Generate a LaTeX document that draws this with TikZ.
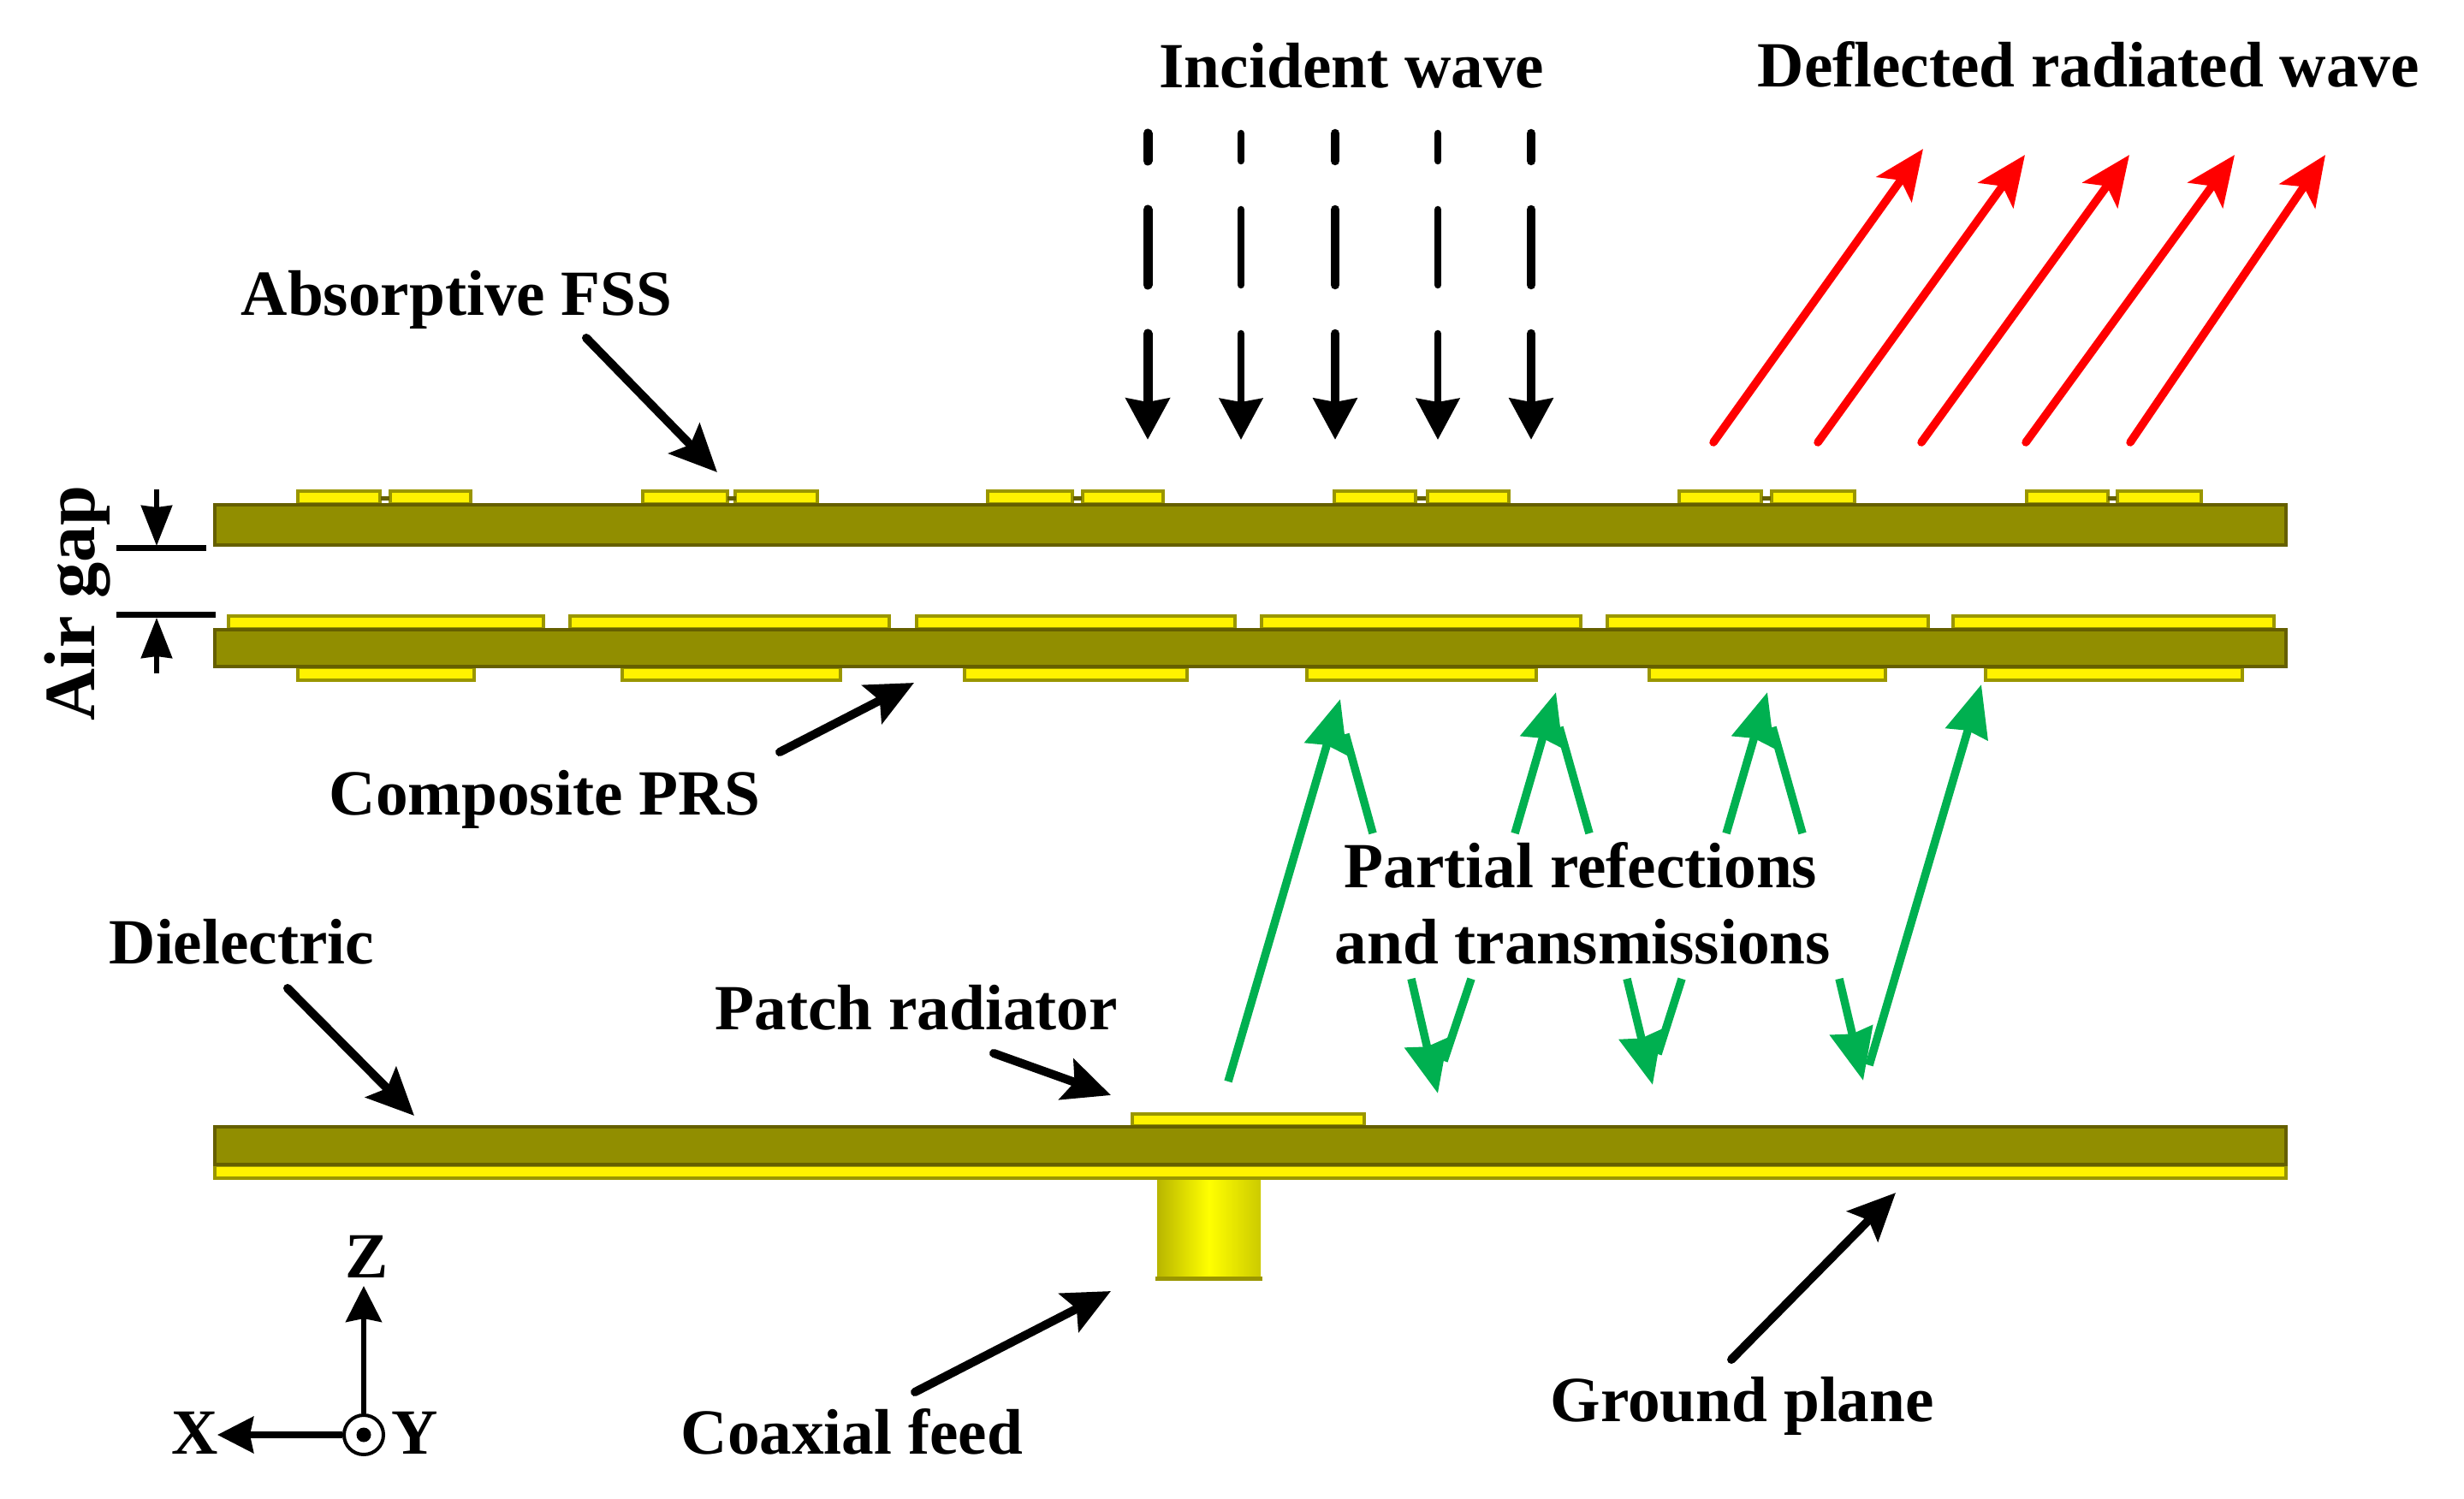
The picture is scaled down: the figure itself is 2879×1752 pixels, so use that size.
\documentclass[tikz,border=0pt]{standalone}
\usepackage{fontspec}
\setmainfont{Liberation Serif}
\usetikzlibrary{arrows.meta}
\definecolor{board}{HTML}{918E00}
\definecolor{boardedge}{HTML}{655F00}
\definecolor{patchedge}{HTML}{9A9600}
\definecolor{wavegreen}{HTML}{00B050}

\begin{document}
\begin{tikzpicture}[x=0.01cm,y=-0.01cm,
  lbl/.style={anchor=base west,inner sep=0pt,font=\fontsize{21.4}{25}\selectfont\bfseries},
  dielectric/.style={fill=board,draw=boardedge,line width=0.045cm},
  patch/.style={fill=yellow,draw=patchedge,line width=0.04cm},
  leader/.style={line width=0.1cm,line cap=round,-{Stealth[length=0.55cm,width=0.5cm,inset=0.1cm]}},
  incident/.style={line cap=round,-{Stealth[length=0.48cm,width=0.5cm,inset=0.04cm]}},
  redwave/.style={red,line width=0.095cm,line cap=round,-{Stealth[length=0.58cm,width=0.5cm,inset=0.13cm]}},
  greenwave/.style={wavegreen,line width=0.095cm,-{Stealth[length=0.6cm,width=0.5cm,inset=0.04cm]}},
  greenline/.style={wavegreen,line width=0.095cm},
  gapmark/.style={line width=0.055cm,-{Stealth[length=0.47cm,width=0.36cm,inset=0.02cm]}},
  gapbar/.style={line width=0.07cm}]

\useasboundingbox (0,0) rectangle (2879,1752);

% Coaxial feed below the ground plane
\shade[left color=patchedge!70!yellow,right color=patchedge!50!yellow,middle color=yellow] (1352,1378) rectangle (1473,1494);
\draw[patchedge,line width=0.05cm] (1350,1494) -- (1475,1494);

% Absorptive FSS board with its pairs of patches
\foreach \a/\b in {348/444,456/550,751/850,859/955,1154/1253,1265/1359,1559/1654,1668/1763,1962/2058,2070/2167,2368/2463,2474/2572} {
\draw[patch] (\a,574) rectangle (\b,589);
}
\foreach \x in {450,855,1259,1661,2064,2468} {
\fill[boardedge] (\x-5,580) rectangle (\x+5,585);
}
\draw[dielectric] (251,590) rectangle (2671,637);

% Composite PRS board, patches above and below
\foreach \a/\b in {267/635,666/1039,1071/1443,1474/1847,1878/2253,2282/2657} {
\draw[patch] (\a,720) rectangle (\b,735);
}
\foreach \a/\b in {348/554,727/982,1127/1387,1527/1795,1927/2203,2320/2620} {
\draw[patch] (\a,780) rectangle (\b,795);
}
\draw[dielectric] (251,736) rectangle (2671,779);

% Lower board, patch radiator and ground plane
\draw[patch] (1323,1302) rectangle (1594,1316);
\draw[patch] (251,1362) rectangle (2671,1377);
\draw[dielectric] (251,1317) rectangle (2671,1361);

% Incident wave, three pieces for each arrow
\foreach \x/\w in {1341/0.11cm,1450/0.085cm,1560/0.105cm,1680/0.085cm,1789/0.105cm} {
\coordinate (inca\x) at (\x,156);
\coordinate (incb\x) at (\x,188);
\coordinate (incc\x) at (\x,245);
\coordinate (incd\x) at (\x,333);
\coordinate (ince\x) at (\x,390);
\coordinate (incf\x) at (\x,514);
\draw[line width=\w,line cap=round] (inca\x) -- (incb\x);
\draw[line width=\w,line cap=round] (incc\x) -- (incd\x);
\draw[incident,line width=\w] (ince\x) -- (incf\x);
}

% Deflected radiated wave
\foreach \i/\xa/\xb/\yb in {1/2002/2247/174,2/2124/2366/181,3/2245/2488/181,4/2367/2611/181,5/2489/2717/181} {
\coordinate (reda\i) at (\xa,517);
\coordinate (redb\i) at (\xb,\yb);
\draw[redwave] (reda\i) -- (redb\i);
}

% Partial reflections, arrows going up to the PRS
\foreach \i/\xa/\ya/\xb/\yb in {1/1435/1264/1566/817,2/1770/974/1818/809,3/2017/974/2065/809,4/2184/1245/2315/800} {
\coordinate (upa\i) at (\xa,\ya);
\coordinate (upb\i) at (\xb,\yb);
\draw[greenwave] (upa\i) -- (upb\i);
}
\foreach \i/\xa/\xb/\yb in {1/1604/1572/858,2/1857/1822/850,3/2106/2071/850} {
\coordinate (upc\i) at (\xa,974);
\coordinate (upd\i) at (\xb,\yb);
\draw[greenline] (upc\i) -- (upd\i);
}

% Arrows going down to the lower board
\foreach \i/\xa/\xb/\yb in {1/1649/1680/1278,2/1901/1931/1268,3/2149/2177/1263} {
\coordinate (dna\i) at (\xa,1144);
\coordinate (dnb\i) at (\xb,\yb);
\draw[greenwave] (dna\i) -- (dnb\i);
}
\foreach \i/\xa/\xb/\yb in {1/1719/1687/1240,2/1965/1937/1232} {
\coordinate (dnc\i) at (\xa,1144);
\coordinate (dnd\i) at (\xb,\yb);
\draw[greenline] (dnc\i) -- (dnd\i);
}

% Labels
\node[lbl] (incidentlbl) at (1354,103) {Incident wave};
\node[lbl] (deflectedlbl) at (2053,102) {Deflected radiated wave};
\node[lbl] (fsslbl) at (281,369) {Absorptive FSS};
\node[lbl] (prslbl) at (384,952) {Composite PRS};
\node[lbl] (reflbl) at (1570,1037) {Partial refections};
\node[lbl] (translbl) at (1559,1126) {and transmissions};
\node[lbl] (diellbl) at (127,1126) {Dielectric};
\node[lbl] (patchlbl) at (835,1203) {Patch radiator};
\node[lbl] (coaxlbl) at (795,1699) {Coaxial feed};
\node[lbl] (groundlbl) at (1811,1661) {Ground plane};
\node[lbl,rotate=90,font=\fontsize{24}{28}\selectfont\bfseries] (gaplbl) at (110,843) {Air gap};

% Leaders from the labels
\coordinate (fssa) at (685,395);
\coordinate (fssb) at (838,552);
\draw[leader] (fssa) -- (fssb);
\coordinate (prsa) at (911,879);
\coordinate (prsb) at (1068,798);
\draw[leader] (prsa) -- (prsb);
\coordinate (diela) at (336,1155);
\coordinate (dielb) at (484,1304);
\draw[leader] (diela) -- (dielb);
\coordinate (patcha) at (1161,1231);
\coordinate (patchb) at (1298,1280);
\draw[leader] (patcha) -- (patchb);
\coordinate (coaxa) at (1069,1627);
\coordinate (coaxb) at (1298,1509);
\draw[leader] (coaxa) -- (coaxb);
\coordinate (grounda) at (2023,1589);
\coordinate (groundb) at (2215,1394);
\draw[leader] (grounda) -- (groundb);

% Air gap marks
\coordinate (gapa) at (136,640);
\coordinate (gapb) at (241,640);
\coordinate (gapc) at (136,718);
\coordinate (gapd) at (252,718);
\coordinate (gape) at (183,572);
\coordinate (gapf) at (183,638);
\coordinate (gapg) at (183,787);
\coordinate (gaph) at (183,722);
\draw[gapbar] (gapa) -- (gapb);
\draw[gapbar] (gapc) -- (gapd);
\draw[gapmark] (gape) -- (gapf);
\draw[gapmark] (gapg) -- (gaph);

% Coordinate axes
\node[circle,draw,line width=0.04cm,minimum size=0.46cm,inner sep=0pt] (origin) at (425,1677) {};
\node[circle,fill=black,minimum size=0.17cm,inner sep=0pt] (origindot) at (origin) {};
\coordinate (ztip) at (425,1503);
\coordinate (xtip) at (254,1677);
\draw[line width=0.055cm,-{Stealth[length=0.42cm,width=0.42cm,inset=0.04cm]}] (origin) -- (ztip);
\draw[line width=0.075cm,-{Stealth[length=0.42cm,width=0.42cm,inset=0.04cm]}] (origin) -- (xtip);
\node[lbl] (zlbl) at (403,1493) {Z};
\node[lbl] (xlbl) at (200,1699) {X};
\node[lbl] (ylbl) at (457,1699) {Y};

\end{tikzpicture}
\end{document}
